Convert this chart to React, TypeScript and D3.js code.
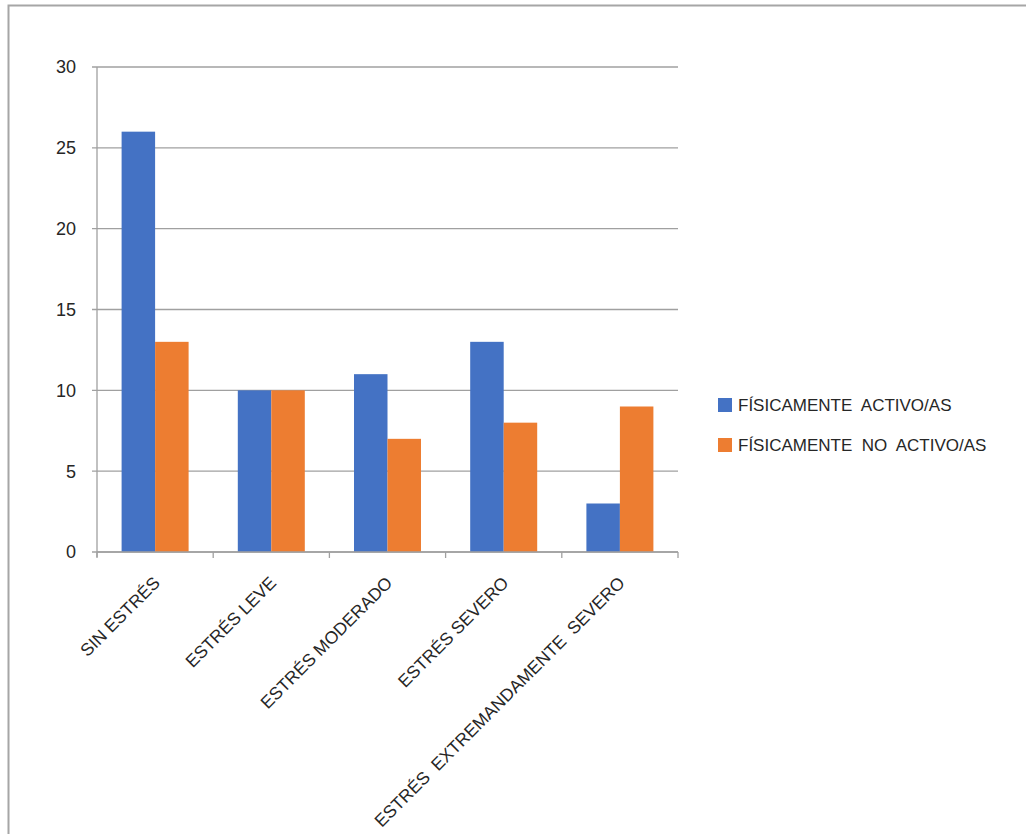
import React from "react";
import * as d3 from "d3";

const categories = ["SIN ESTRÉS", "ESTRÉS LEVE", "ESTRÉS MODERADO", "ESTRÉS SEVERO", "ESTRÉS  EXTREMANDAMENTE  SEVERO"];
const seriesNames = ["FÍSICAMENTE  ACTIVO/AS", "FÍSICAMENTE  NO  ACTIVO/AS"];
const activo = [26, 10, 11, 13, 3];
const noActivo = [13, 10, 7, 8, 9];
const yTicks = [0, 5, 10, 15, 20, 25, 30];
const colors = ["#4472C4", "#ED7D31"];

export default function App() {
  const W = 1026, H = 834;
  const x0 = 97, x1 = 678, yTop = 67, yBot = 552;
  const x = d3.scaleBand<string>().domain(categories).range([x0, x1]).paddingInner(0).paddingOuter(0);
  const y = d3.scaleLinear().domain([0, 30]).range([yBot, yTop]);
  const groupW = 67;
  const inner = d3.scaleBand<number>().domain([0, 1]).range([0, groupW]);
  const series = [activo, noActivo];
  const font = "'Liberation Sans', Arial, sans-serif";
  const textColor = "#262626";
  return (
    <svg width={W} height={H} style={{ position: "fixed", left: 0, top: 0, background: "#fff" }} fontFamily={font}>
      <rect x={0} y={0} width={W} height={H} fill="#fff" />
      <rect x={8.5} y={5.5} width={1100} height={1000} fill="none" stroke="#a6a6a6" strokeWidth={2} />
      {yTicks.map((t) => (
        <g key={t}>
          <line x1={x0 - 5} x2={x1} y1={y(t)} y2={y(t)} stroke="#a0a0a0" strokeWidth={1.3} />
          <text x={76} y={y(t)} dy="0.36em" textAnchor="end" fontSize={18} fill={textColor}>{t}</text>
        </g>
      ))}
      <line x1={x0} x2={x0} y1={yTop} y2={yBot + 5} stroke="#a0a0a0" strokeWidth={1.3} />
      {d3.range(categories.length + 1).map((i) => {
        const xx = x0 + i * x.bandwidth();
        return <line key={i} x1={xx} x2={xx} y1={yBot} y2={yBot + 6} stroke="#a0a0a0" strokeWidth={1.3} />;
      })}
      {categories.map((c, ci) => {
        const gx = (x(c) as number) + (x.bandwidth() - groupW) / 2;
        return (
          <g key={c}>
            {series.map((s, si) => (
              <rect key={si} x={gx + (inner(si) as number)} y={y(s[ci])} width={inner.bandwidth()} height={yBot - y(s[ci])} fill={colors[si]} />
            ))}
          </g>
        );
      })}
      <line x1={x0} x2={x1} y1={yBot} y2={yBot} stroke="#a0a0a0" strokeWidth={1.3} />
      {categories.map((c) => {
        const cx = (x(c) as number) + x.bandwidth() / 2;
        return (
          <text key={c} transform={`translate(${cx + 6},${yBot + 32}) rotate(-45)`} textAnchor="end" fontSize={17.5} fill={textColor} style={{ whiteSpace: "pre" }}>
            {c}
          </text>
        );
      })}
      {seriesNames.map((n, i) => (
        <g key={n} transform={`translate(718,${398 + i * 40})`}>
          <rect x={0} y={0} width={14} height={14} fill={colors[i]} />
          <text x={20} y={7} dy="0.36em" fontSize={17} fill={textColor} style={{ whiteSpace: "pre" }}>{n}</text>
        </g>
      ))}
    </svg>
  );
}
